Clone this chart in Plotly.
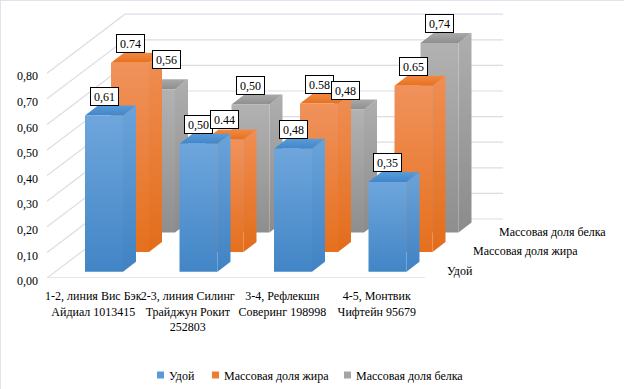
import plotly.graph_objects as go

categories = ["1-2, линия Вис Бэк<br>Айдиал 1013415",
              "2-3, линия Силинг<br>Трайджун Рокит<br>252803",
              "3-4, Рефлекшн<br>Соверинг 198998",
              "4-5, Монтвик<br>Чифтейн 95679"]
series_names = ["Удой", "Массовая доля жира", "Массовая доля белка"]
udoi = [0.61, 0.50, 0.48, 0.35]
fat = [0.74, 0.44, 0.58, 0.65]
protein = [0.56, 0.50, 0.48, 0.74]
y_ticks = [0.0, 0.1, 0.2, 0.3, 0.4, 0.5, 0.6, 0.7, 0.8]

W, H = 624, 389
L, BOT = 47, 278            # pixel position of the front-left floor corner
CAT_PX, VAL_PX = 94.5, 256  # pixels per category / per unit of value
FONT = "Liberation Serif"
GRID = "#dcdce6"

series_vals = [udoi, fat, protein]
styles = [
    dict(front=("#6ea6dc", "#4285c6"), side=("#6aa3da", "#4082c3"), top=("#3f86cc", "#5b9bd5"), sw="#5b9bd5"),
    dict(front=("#f0925c", "#e5701d"), side=("#f08e54", "#e26d1a"), top=("#e96f1b", "#f08a45"), sw="#ed7d31"),
    dict(front=("#b2b2b2", "#8e8e8e"), side=("#aeaeae", "#8b8b8b"), top=("#8e8e8e", "#a9a9a9"), sw="#a5a5a5"),
]

dx = lambda px: px / CAT_PX
dv = lambda px: px / VAL_PX
BAR_W, DEPTH_X, DEPTH_V = dx(38), dx(13), dv(10)
ROW_X, ROW_V = dx(26), dv(19.6)
BASE_V = dv(6.3)
START_X = dx(38)
WALL_X, WALL_V = dx(78), dv(59)

fig = go.Figure()
# walls
for v in y_ticks:
    fig.add_trace(go.Scatter(x=[0, WALL_X, WALL_X + 4], y=[v, v + WALL_V, v + WALL_V], mode="lines",
                             line=dict(color=GRID, width=1.2), hoverinfo="skip", showlegend=False, cliponaxis=False))
fig.add_trace(go.Scatter(x=[0, 4], y=[0, 0], mode="lines", line=dict(color=GRID, width=1.5),
                         hoverinfo="skip", showlegend=False, cliponaxis=False))


def face(xs, ys, cols):
    fig.add_trace(go.Scatter(x=xs + xs[:1], y=ys + ys[:1], mode="lines", line=dict(width=0), fill="toself",
                             fillgradient=dict(type="vertical", colorscale=[[0, cols[1]], [1, cols[0]]]),
                             hoverinfo="skip", showlegend=False))


# bars, back row first
for s in [2, 1, 0]:
    st = styles[s]
    base = BASE_V + s * ROW_V
    for i, val in enumerate(series_vals[s]):
        x0 = i + START_X + s * ROW_X
        x1 = x0 + BAR_W
        top = base + val
        face([x1, x1 + DEPTH_X, x1 + DEPTH_X, x1], [base, base + DEPTH_V, top + DEPTH_V, top], st["side"])
        face([x0, x1, x1 + DEPTH_X, x0 + DEPTH_X], [top, top, top + DEPTH_V, top + DEPTH_V],
             (st["top"][1], st["top"][0]))
        face([x0, x1, x1, x0], [base, base, top, top], st["front"])

# legends: one per series so each entry sits at its own place
leg_px = [129, 184, 316]
leg_names = ["legend", "legend2", "legend3"]
for s, name in enumerate(series_names):
    fig.add_trace(go.Scatter(x=[None], y=[None], mode="lines", name=name, legend=leg_names[s], showlegend=True,
                             line=dict(color=styles[s]["sw"], width=7, dash="0px,23px,7px,100px")))

annotations = []
for s in range(3):
    base = BASE_V + s * ROW_V
    for i, val in enumerate(series_vals[s]):
        txt = f"{val:.2f}" if s == 1 else f"{val:.2f}".replace(".", ",")
        moved = (s == 2 and i == 0)
        annotations.append(dict(x=i + START_X + s * ROW_X + BAR_W / 2, y=base + val + DEPTH_V,
                                xref="x", yref="y", text=txt, showarrow=False, xanchor="center", yanchor="bottom",
                                xshift=10 if moved else 0, yshift=10 if moved else 0,
                                bgcolor="white", bordercolor="black", borderwidth=1, borderpad=0,
                                width=27, height=17, align="center",
                                font=dict(family=FONT, size=12, color="black")))
# depth-axis labels
for s, name in enumerate(series_names):
    annotations.append(dict(x=4 + dx(20) + s * ROW_X, y=dv(7) + s * ROW_V, xref="x", yref="y", text=name,
                            showarrow=False, xanchor="left", yanchor="middle",
                            font=dict(family=FONT, size=12, color="black")))

px_x = lambda p: (p - L) / (W - L)
px_y = lambda p: (BOT - p) / BOT
frame = [dict(type="line", xref="paper", yref="paper", x0=px_x(0), x1=px_x(W), y0=px_y(0.5), y1=px_y(0.5)),
         dict(type="line", xref="paper", yref="paper", x0=px_x(0.5), x1=px_x(0.5), y0=px_y(0), y1=px_y(H))]
for f in frame:
    f["line"] = dict(color="#dfe3ee", width=1)

layout_legends = {}
for s, n in enumerate(leg_names):
    layout_legends[n] = dict(x=px_x(leg_px[s]), y=px_y(375), xanchor="left", yanchor="middle", orientation="h",
                             bgcolor="rgba(0,0,0,0)", borderwidth=0,
                             font=dict(family=FONT, size=12, color="black"))

fig.update_layout(
    width=W, height=H, margin=dict(l=L, r=0, t=0, b=H - BOT, autoexpand=False),
    paper_bgcolor="white", plot_bgcolor="white", separators=",.",
    font=dict(family=FONT, size=12, color="black"),
    xaxis=dict(range=[0, (W - L) / CAT_PX], tickmode="array", tickvals=[i + 0.49 for i in range(4)],
               ticktext=categories, tickangle=0, showgrid=False, zeroline=False, showline=False, ticks="",
               ticklabelstandoff=9, fixedrange=True),
    yaxis=dict(range=[0, BOT / VAL_PX], tickmode="array", tickvals=y_ticks, tickformat=".2f",
               showgrid=False, zeroline=False, showline=False, ticks="", ticklabelstandoff=8,
               ticklabelshift=3, fixedrange=True),
    annotations=annotations, shapes=frame, **layout_legends,
)
fig.write_html("out.html", config={"displayModeBar": False},
               post_script="document.body.style.margin='0';document.body.style.overflow='hidden';")
